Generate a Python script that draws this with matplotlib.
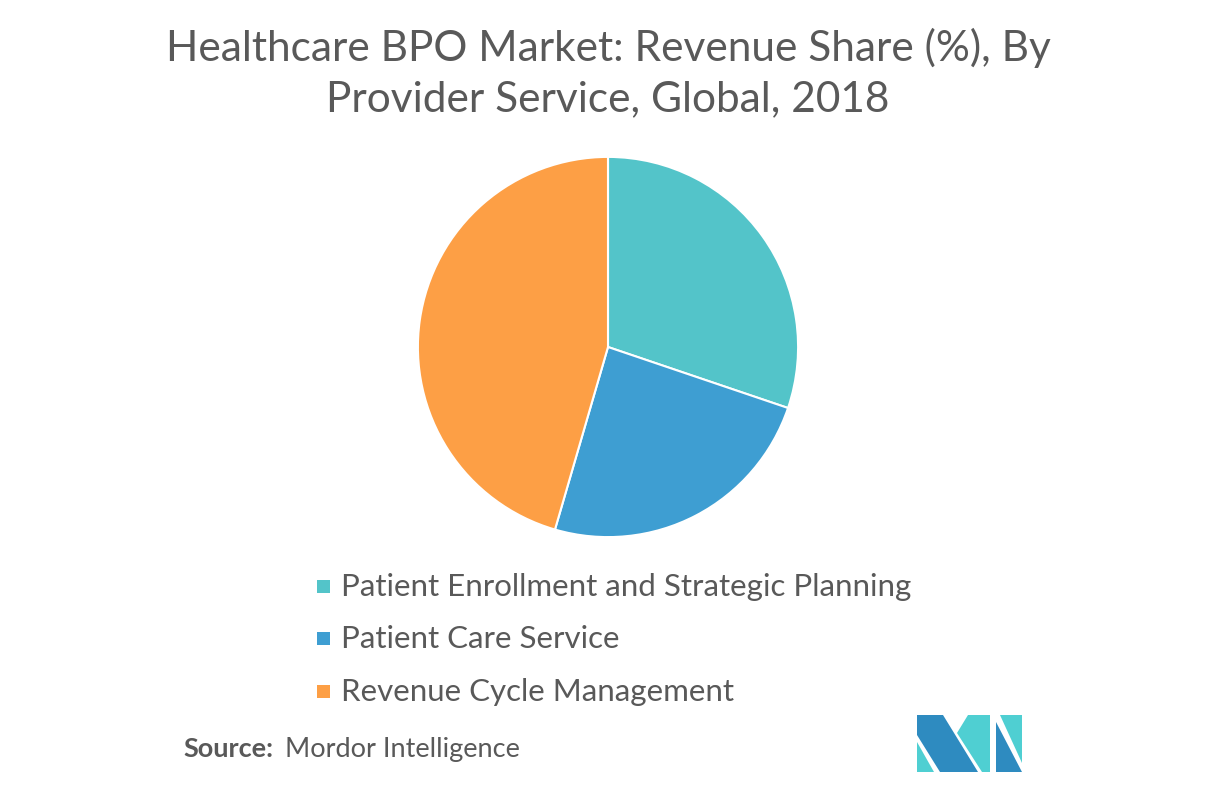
import matplotlib
matplotlib.use("Agg")
import matplotlib.pyplot as plt
from matplotlib.patches import Polygon, Rectangle

plt.rcParams['font.family'] = ['Lato', 'DejaVu Sans']

categories = ["Patient Enrollment and Strategic Planning", "Patient Care Service", "Revenue Cycle Management"]
values = [30.2, 24.3, 45.5]
colors = ["#53C4C9", "#3E9ED2", "#FD9F45"]
title = "Healthcare BPO Market: Revenue Share (%), By\nProvider Service, Global, 2018"

W, H = 1217, 785
fig = plt.figure(figsize=(W / 100, H / 100), dpi=100)
fig.patch.set_facecolor("white")

def fx(x):
    return x / W

def fy(y):
    return 1 - y / H

# pie axes: center (608,347), radius 192 px
cx, cy, r = 608, 347, 192
ax = fig.add_axes([fx(cx - r), fy(cy + r), 2 * r / W, 2 * r / H])
ax.pie(values, colors=colors, startangle=90, counterclock=False, radius=1,
       wedgeprops=dict(edgecolor="white", linewidth=1.5))
ax.set_xlim(-1.01, 1.01)
ax.set_ylim(-1.01, 1.01)
ax.set_aspect("equal")
ax.axis("off")

text_color = "#595959"
fig.text(fx(608), fy(73), title, ha="center", va="center", fontsize=30.5,
         color=text_color, linespacing=1.4)

# legend
leg_y = [587, 639, 692]
for lab, col, y in zip(categories, colors, leg_y):
    fig.patches.append(Rectangle((fx(317), fy(y + 6)), 13 / W, 13 / H,
                                 transform=fig.transFigure, facecolor=col,
                                 edgecolor="none"))
    fig.text(fx(341), fy(y), lab, ha="left", va="center", fontsize=22.5,
             color=text_color)

# source
fig.text(fx(183), fy(749), "Source:", ha="left", va="center", fontsize=19.5,
         fontweight="bold", color=text_color)
fig.text(fx(285), fy(749), "Mordor Intelligence", ha="left", va="center",
         fontsize=19.5, color=text_color)

# logo
dark = "#2E8BC0"
teal = "#4FCFD2"
logo = [
    ([(917, 715), (943, 715), (978, 772), (940, 772), (917, 735)], dark),
    ([(917, 742), (917, 772), (934, 772)], teal),
    ([(968, 715), (990, 715), (990, 772), (982, 772), (957, 733)], teal),
    ([(996, 722), (996, 772), (1022, 772)], dark),
    ([(1000, 715), (1022, 715), (1022, 763)], teal),
]
for pts, col in logo:
    fig.patches.append(Polygon([(fx(x), fy(y)) for x, y in pts], closed=True,
                               transform=fig.transFigure, facecolor=col,
                               edgecolor="none"))

fig.savefig("out.png", dpi=100, facecolor="white")
